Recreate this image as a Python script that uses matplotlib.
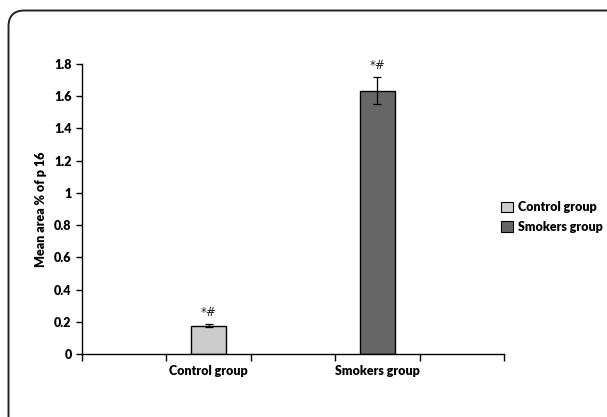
import numpy as np
import matplotlib.pyplot as plt
from matplotlib.patches import FancyBboxPatch, Patch

plt.rcParams['font.family'] = ['Lato', 'DejaVu Sans']

# data
groups = ["Control group", "Smokers group"]
means = [0.175, 1.635]
errors = [0.01, 0.082]
colors = ["#cccccc", "#666666"]
positions = [1, 3]          # five slots on the axis, bars in slots 2 and 4
marks = ["*#", "*#"]
yticks = [0, 0.2, 0.4, 0.6, 0.8, 1, 1.2, 1.4, 1.6, 1.8]

fig = plt.figure(figsize=(6.07, 4.17), dpi=100)

# rounded frame around the whole picture, drawn in pixel units
bg = fig.add_axes([0, 0, 1, 1])
bg.set_xlim(0, 607)
bg.set_ylim(417, 0)
bg.axis("off")
bg.add_patch(FancyBboxPatch((8.5, 10.5), 620, 430,
                            boxstyle="round,pad=0,rounding_size=16",
                            fc="white", ec="#222222", lw=1.4))

ax = fig.add_axes([82 / 607, 1 - 354 / 417, 422 / 607, 290 / 417])
ax.patch.set_alpha(0)

for x, m, e, c in zip(positions, means, errors, colors):
    ax.bar(x, m, width=0.41, color=c, edgecolor="black", linewidth=1.0)
    ax.errorbar(x, m, yerr=e, fmt="none", ecolor="black", elinewidth=0.9,
                capsize=3, capthick=0.9)

for x, m, e, t in zip(positions, means, errors, marks):
    ax.text(x, m + e + 0.035, t, ha="center", va="bottom", fontsize=8.5,
            family=["DejaVu Sans"], color="#222222")

ax.set_xlim(-0.5, 4.5)
ax.set_ylim(0, 1.8)
ax.set_yticks(yticks)
ax.set_yticklabels([f"{v:g}" for v in yticks], fontsize=9, fontweight="heavy")

ax.set_xticks(np.arange(-0.5, 4.6, 1.0))
ax.set_xticklabels([])
ax.set_xticks(positions, minor=True)
ax.set_xticklabels(groups, minor=True, fontsize=9, fontweight="heavy")
ax.tick_params(axis="x", which="minor", length=0, pad=8)
ax.tick_params(axis="x", which="major", direction="out", length=5, width=1)
ax.tick_params(axis="y", direction="out", length=4, width=1)

for s in ["top", "right"]:
    ax.spines[s].set_visible(False)
for s in ["left", "bottom"]:
    ax.spines[s].set_linewidth(1.0)

ax.set_ylabel("Mean area % of p 16", fontsize=9, fontweight="heavy", labelpad=5)

handles = [Patch(facecolor=c, edgecolor="black", linewidth=0.8) for c in colors]
fig.legend(handles, groups, loc="center left", bbox_to_anchor=(490 / 607, 1 - 217 / 417),
           frameon=False, prop={"size": 9, "weight": "heavy"},
           handlelength=0.9, handleheight=0.9, handletextpad=0.4, labelspacing=0.6)

fig.savefig("out.png", dpi=100)
